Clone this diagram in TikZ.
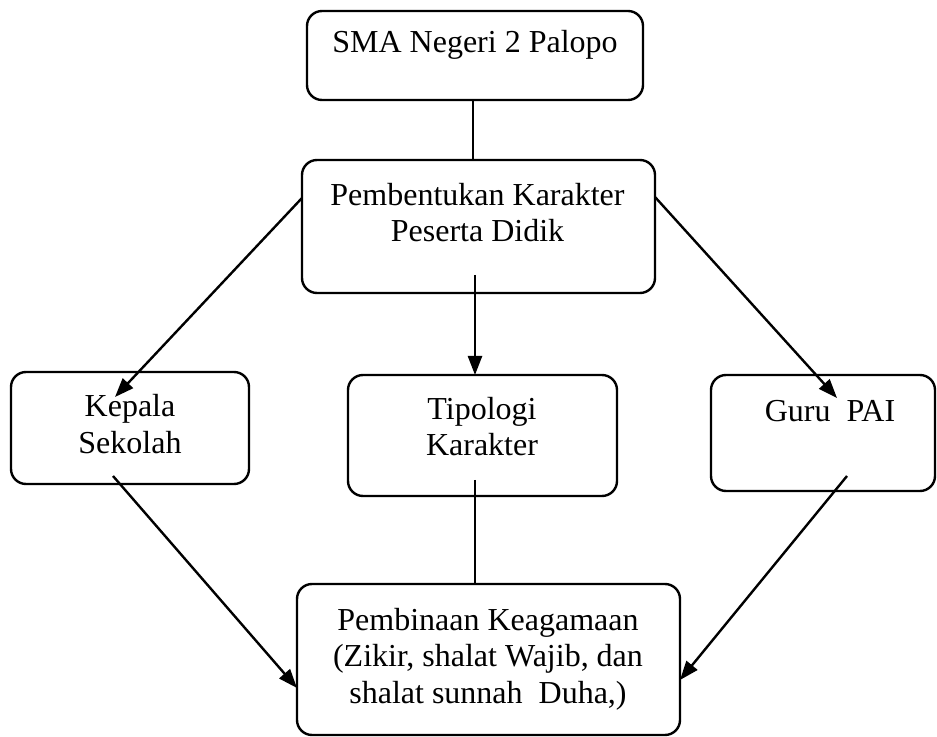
\documentclass[tikz,border=0pt]{standalone}
\usepackage{fontspec}
\setmainfont{Liberation Serif}
\usetikzlibrary{arrows.meta}
\tikzset{
  box/.style={draw, line width=1.2pt, rounded corners=7.5pt, inner sep=0pt, outer sep=0pt},
  lbl/.style={align=center, inner sep=0pt, anchor=base, font=\fontsize{16}{18.2}\selectfont},
  conn/.style={line width=1.2pt},
  arr/.style={line width=1.2pt, -{Triangle[length=9.5pt,width=7pt]}}
}
\begin{document}
\begin{tikzpicture}[x=0.5pt,y=-0.5pt]
\useasboundingbox (0,0) rectangle (937,737);
% boxes
\node[box, minimum width=168pt, minimum height=44.5pt] (top) at (475,55.5) {};
\node[box, minimum width=176.5pt, minimum height=66.5pt] (main) at (478.5,226.5) {};
\node[box, minimum width=119pt, minimum height=56pt] (kepala) at (130,428) {};
\node[box, minimum width=134.5pt, minimum height=60.5pt] (tipo) at (482.5,435.5) {};
\node[box, minimum width=112pt, minimum height=58pt] (guru) at (823,433) {};
\node[box, minimum width=191.5pt, minimum height=75.5pt] (bottom) at (488.5,659.5) {};
% texts (base anchor = baseline of last line)
\node[lbl] (tTop) at (475,53) {SMA Negeri 2 Palopo};
\node[lbl] (tMain) at (477.5,242) {Pembentukan Karakter\\Peserta Didik};
\node[lbl] (tKep) at (130,453) {Kepala\\Sekolah};
\node[lbl] (tTipo) at (482,456) {Tipologi\\Karakter};
\node[lbl] (tGuru) at (830,422) {Guru\ \ PAI};
\node[lbl] (tBot) at (488,703) {Pembinaan Keagamaan\\(Zikir, shalat Wajib, dan\\shalat sunnah\ \ Duha,)};
% connector points
\coordinate (mL) at (302,198);
\coordinate (kT) at (115,397);
\coordinate (mR) at (655,197);
\coordinate (gT) at (837,398);
\coordinate (mD) at (475,275);
\coordinate (tU) at (475,480);
\coordinate (kB) at (113,476);
\coordinate (bL) at (297,688);
\coordinate (gB) at (847,476);
\coordinate (bR) at (680,680);
% connectors
\draw[conn] (top.south -| 473,0) -- (main.north -| 473,0);
\draw[arr] (mL) -- (kT);
\draw[arr] (mR) -- (gT);
\draw[arr] (mD) -- (tipo.north -| mD);
\draw[conn] (tU) -- (bottom.north -| tU);
\draw[arr] (kB) -- (bL);
\draw[arr] (gB) -- (bR);
\end{tikzpicture}
\end{document}
